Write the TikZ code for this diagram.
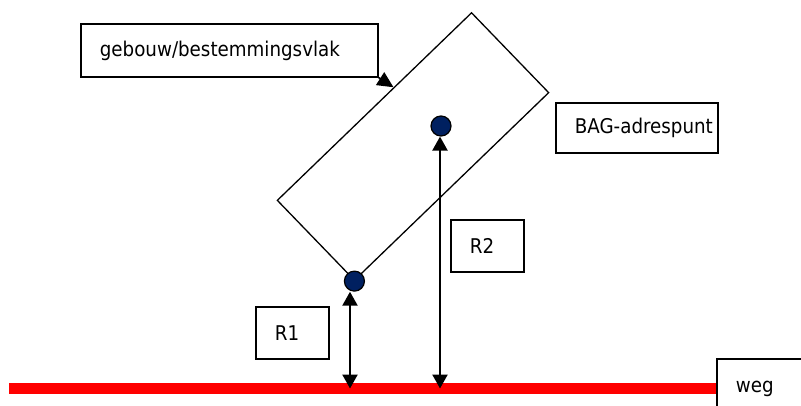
\documentclass[tikz,border=0pt]{standalone}
\usepackage{fontspec}
\setmainfont{DejaVu Sans Condensed}
\usetikzlibrary{shapes,arrows.meta,calc}
\definecolor{puntblauw}{RGB}{0,32,96}
\exhyphenpenalty=10000
\tikzstyle{vak} = [rectangle, draw, line width=1.8pt, anchor=north west,
    inner xsep=0pt, align=left, font=\fontsize{20.3}{24}\selectfont,
    execute at begin node={\hspace*{19pt}}]
\tikzstyle{vlakje} = [rectangle, draw, line width=1.3pt, rotate=44,
    minimum width=270pt, minimum height=111pt]
\tikzstyle{punt} = [circle, draw, line width=1.2pt, fill=puntblauw,
    minimum size=20pt, inner sep=0pt]
\tikzstyle{maat} = [draw, line width=2.3pt, {Triangle[width=15pt,length=14pt]}-{Triangle[width=15pt,length=14pt]}]
\tikzstyle{wijzer} = [draw, line width=1.8pt, -{Triangle[width=15pt,length=16pt]}]
\tikzstyle{wegstreep} = [draw, red, line width=11pt]

\begin{document}
\begin{tikzpicture}[x=1pt, y=-1pt]
    \useasboundingbox (0,0) rectangle (801,405);
    % Place nodes
    \node [vlakje] (vlak) at (413,146.5) {};
    \node [vak, text width=297pt, minimum height=53pt] (gebouw) at (80,23) {gebouw/bestemmingsvlak};
    \node [vak, text width=162pt, minimum height=50pt] (bag) at (555,102) {BAG-adrespunt};
    \node [vak, text width=73pt, minimum height=52pt] (r2) at (450,219) {R2};
    \node [vak, text width=73pt, minimum height=52pt] (r1) at (255,306) {R1};
    \node [vak, text width=100pt, minimum height=60pt] (weg) at (716,358) {weg};
    \node [punt] (adres1) at (vlak.south west) {};
    \node [punt] (adres2) at (441,126) {};
    \coordinate (wegbegin) at (9,388.5);
    \coordinate (voet1) at (350,388.5);
    \coordinate (voet2) at (440,388.5);

    % Draw edges
    \path [wegstreep] (wegbegin) -- (wegbegin -| weg.west);
    \path [wijzer] (gebouw.south east) -- ($(vlak.north west)!0.6!(vlak.north east)$);
    \path [maat] (voet1) -- (voet1 |- adres1.south);
    \path [maat] (voet2) -- (voet2 |- adres2.south);
\end{tikzpicture}
\end{document}
